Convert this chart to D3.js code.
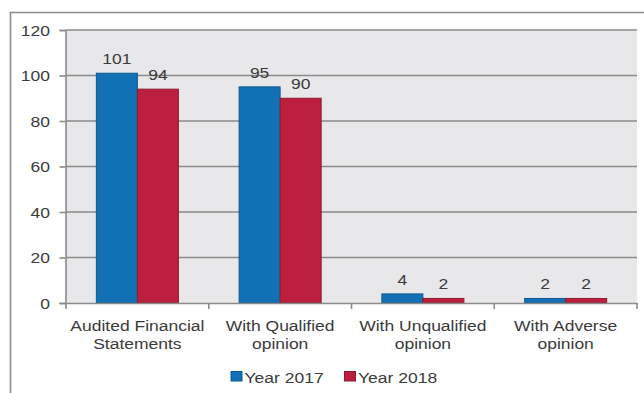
<!DOCTYPE html>
<html>
<head>
<meta charset="utf-8">
<script src="https://cdn.jsdelivr.net/npm/d3@7"></script>
<style>
  html, body { margin: 0; padding: 0; background: #ffffff; }
  svg { display: block; }
  text { font-family: "Liberation Sans", Arial, sans-serif; fill: #3a3a3a; }
</style>
</head>
<body>
<svg id="chart" width="644" height="393"></svg>
<script>
// Opinion counts by category for two reporting years
const categories = [
  ["Audited Financial", "Statements"],
  ["With Qualified", "opinion"],
  ["With Unqualified", "opinion"],
  ["With Adverse", "opinion"]
];
const seriesNames = ["Year 2017", "Year 2018"];
const values2017 = [101, 95, 4, 2];
const values2018 = [94, 90, 2, 2];
const yTicks = [0, 20, 40, 60, 80, 100, 120];

const seriesValues = [values2017, values2018];
const fills = ["#1271b5", "#bb1f3d"];
const edges = ["#0d5a93", "#8f1a30"];
const gridColor = "#8a8a8a";
const stretch = 1.13; // text glyphs are drawn slightly wide
const fontSize = 15.5;

const svg = d3.select("#chart");
const catKeys = categories.map(c => c.join(" "));

const plot = { left: 66, right: 637, top: 30, bottom: 303 };

const x = d3.scaleBand().domain(catKeys).range([plot.left, plot.right]).padding(0);
const xInner = d3.scaleBand().domain(seriesNames).range([0, x.bandwidth()])
  .paddingInner(0).paddingOuter(0.74);
const y = d3.scaleLinear().domain([0, 120]).range([plot.bottom, plot.top]);

// helper: text with horizontal stretch about its anchor point
function stext(g, tx, ty, str, anchor) {
  return g.append("text")
    .attr("transform", `translate(${tx},${ty}) scale(${stretch},1)`)
    .attr("text-anchor", anchor)
    .style("font-size", fontSize + "px")
    .text(str);
}

// outer frame (top and left edges visible)
svg.append("path")
  .attr("d", "M10.5,393 L10.5,12.5 L644,12.5")
  .attr("fill", "none").attr("stroke", "#8c8c8c").attr("stroke-width", 1.6);

// plot background
svg.append("rect")
  .attr("x", plot.left).attr("y", plot.top)
  .attr("width", plot.right - plot.left).attr("height", plot.bottom - plot.top)
  .attr("fill", "#e8e8ea");

// horizontal gridlines
svg.append("g").selectAll("line").data(yTicks.filter(d => d > 0)).join("line")
  .attr("x1", plot.left).attr("x2", plot.right)
  .attr("y1", d => y(d)).attr("y2", d => y(d))
  .attr("stroke", gridColor).attr("stroke-width", 1.6);

// y axis
const yAxis = svg.append("g")
  .attr("transform", `translate(${plot.left - 0.5},0)`)
  .call(d3.axisLeft(y).tickValues(yTicks).tickSize(6).tickFormat(""));
yAxis.select(".domain").attr("stroke", gridColor).attr("stroke-width", 1.6);
yAxis.selectAll(".tick line").attr("stroke", gridColor).attr("stroke-width", 1.6);
yTicks.forEach(t => stext(svg, 50, y(t) + 5.5, String(t), "end"));

// bars
const groups = svg.append("g").selectAll("g").data(catKeys).join("g")
  .attr("transform", d => `translate(${x(d)},0)`);
seriesNames.forEach((s, si) => {
  groups.append("rect")
    .attr("x", xInner(s))
    .attr("y", (d, i) => y(seriesValues[si][i]))
    .attr("width", xInner.bandwidth())
    .attr("height", (d, i) => y(0) - y(seriesValues[si][i]))
    .attr("fill", fills[si])
    .attr("stroke", edges[si]).attr("stroke-width", 1);
  groups.each(function (d, i) {
    const v = seriesValues[si][i];
    stext(d3.select(this), xInner(s) + xInner.bandwidth() / 2, y(v) - 9, String(v), "middle");
  });
});

// x axis
const xAxis = svg.append("g")
  .attr("transform", `translate(0,${plot.bottom})`)
  .call(d3.axisBottom(x).tickSize(0).tickFormat(""));
xAxis.select(".domain").attr("stroke", gridColor).attr("stroke-width", 1.6);
const bounds = catKeys.map(k => x(k)).concat([plot.right]);
svg.append("g").selectAll("line").data(bounds).join("line")
  .attr("x1", d => d).attr("x2", d => d)
  .attr("y1", plot.bottom).attr("y2", plot.bottom + 6)
  .attr("stroke", gridColor).attr("stroke-width", 1.6);

// category labels (two lines each)
categories.forEach((lines, i) => {
  const cx = x(catKeys[i]) + x.bandwidth() / 2;
  lines.forEach((ln, li) => stext(svg, cx, 331 + li * 18, ln, "middle"));
});

// legend
const legendX = [231, 344.5];
seriesNames.forEach((s, si) => {
  svg.append("rect")
    .attr("x", legendX[si]).attr("y", 371.5)
    .attr("width", 11).attr("height", 9.5)
    .attr("fill", fills[si]).attr("stroke", edges[si]).attr("stroke-width", 1);
  stext(svg, legendX[si] + 13.5, 382.5, s, "start");
});
</script>
</body>
</html>
